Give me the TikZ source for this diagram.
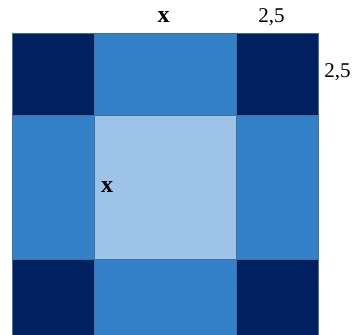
\documentclass[tikz,border=0pt]{standalone}
\usepackage{fontspec}
\setmainfont{Liberation Serif}
\definecolor{navy}{HTML}{002060}
\definecolor{midblue}{HTML}{3581C9}
\definecolor{lightblue}{HTML}{9DC3E6}
\definecolor{edgeblue}{HTML}{41719C}
\begin{document}
\begin{tikzpicture}[x=1pt,y=-1pt,
  cell/.style={draw=edgeblue,line width=0.8pt},
  lbl/.style={font=\fontsize{21}{21}\selectfont,inner sep=0pt},
  xlbl/.style={font=\bfseries\fontsize{24}{24}\selectfont,inner sep=0pt}]
\useasboundingbox (0,0) rectangle (354,335);
% corners
\filldraw[cell,fill=navy] (12.5,33) rectangle (94,115.3);
\filldraw[cell,fill=navy] (236.7,33) rectangle (318.5,115.3);
\filldraw[cell,fill=navy] (12.5,259) rectangle (94,345);
\filldraw[cell,fill=navy] (236.7,259) rectangle (318.5,345);
% edges
\filldraw[cell,fill=midblue] (94,33) rectangle (236.7,115.3);
\filldraw[cell,fill=midblue] (94,259) rectangle (236.7,345);
\filldraw[cell,fill=midblue] (12.5,115.3) rectangle (94,259);
\filldraw[cell,fill=midblue] (236.7,115.3) rectangle (318.5,259);
% center
\filldraw[cell,fill=lightblue] (94,115.3) rectangle (236.7,259);
% labels
\node[xlbl] (xtop) at (163.5,17) {x};
\node[lbl] (ttop) at (271.5,17) {2,5};
\node[lbl] (tright) at (337.5,72) {2,5};
\node[xlbl] (xmid) at (107,187) {x};
\end{tikzpicture}
\end{document}
